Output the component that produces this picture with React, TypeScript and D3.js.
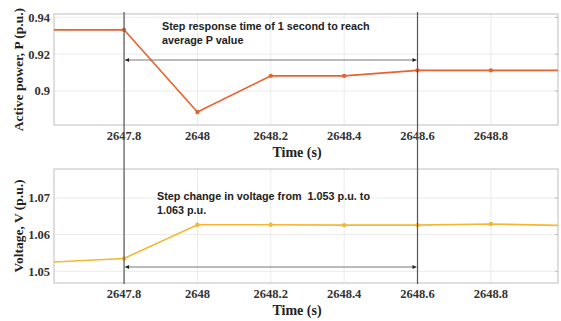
import React from 'react';
import * as d3 from 'd3';

const times = [2647.6, 2647.8, 2648, 2648.2, 2648.4, 2648.6, 2648.8, 2649.0];
const powerP = [0.9332, 0.9332, 0.8886, 0.9082, 0.9082, 0.9112, 0.9112, 0.9112];
const voltageV = [1.0525, 1.0535, 1.0627, 1.0627, 1.0626, 1.0626, 1.0629, 1.0625];
const xTicks = [2647.8, 2648, 2648.2, 2648.4, 2648.6, 2648.8];
const pTicks = [0.9, 0.92, 0.94];
const vTicks = [1.05, 1.06, 1.07];
const eventTimes = [2647.8, 2648.6];

const W = 561;
const H = 321;
const left = 54;
const right = 558;

const serif = '"Liberation Serif", "Times New Roman", serif';
const sans = '"Liberation Sans", Arial, sans-serif';

const x = d3.scaleLinear().domain([2647.609, 2648.983]).range([left, right]);

type PanelProps = {
  id: string;
  top: number;
  bottom: number;
  yDomain: [number, number];
  yTicks: number[];
  values: number[];
  color: string;
  yLabel: string;
  tickFmt: (v: number) => string;
};

const Panel = ({ id, top, bottom, yDomain, yTicks, values, color, yLabel, tickFmt }: PanelProps) => {
  const y = d3.scaleLinear().domain(yDomain).range([bottom, top]);
  const line = d3.line<number>()
    .x((d, i) => x(times[i]))
    .y(d => y(d));
  const pts = values.map((v, i) => ({ t: times[i], v })).filter(p => p.t >= x.domain()[0] && p.t <= x.domain()[1]);
  return (
    <g>
      <defs>
        <clipPath id={id}>
          <rect x={left} y={top} width={right - left} height={bottom - top} />
        </clipPath>
      </defs>
      {xTicks.map(t => (
        <line key={t} x1={x(t)} x2={x(t)} y1={top} y2={bottom} stroke="#ebebeb" strokeWidth={1} />
      ))}
      {yTicks.map(t => (
        <line key={t} x1={left} x2={right} y1={y(t)} y2={y(t)} stroke="#ebebeb" strokeWidth={1} />
      ))}
      <rect x={left} y={top} width={right - left} height={bottom - top} fill="none" stroke="#c8c8c8" strokeWidth={1.2} />
      {yTicks.map(t => (
        <line key={'tk' + t} x1={right - 3} x2={right} y1={y(t)} y2={y(t)} stroke="#bbb" />
      ))}
      <path d={line(values) || ''} fill="none" stroke={color} strokeWidth={1.6} clipPath={`url(#${id})`} />
      {pts.map(p => (
        <circle key={p.t} cx={x(p.t)} cy={y(p.v)} r={2.2} fill={color} />
      ))}
      {yTicks.map(t => (
        <text key={'l' + t} x={left - 4} y={y(t)} dy="0.35em" textAnchor="end"
          fontFamily={serif} fontWeight="bold" fontSize={12.5} fill="#333">{tickFmt(t)}</text>
      ))}
      {xTicks.map(t => (
        <text key={'x' + t} x={x(t)} y={bottom + 15} textAnchor="middle"
          fontFamily={serif} fontWeight="bold" fontSize={12.5} fill="#333">{d3.format('')(+t.toFixed(1))}</text>
      ))}
      <text x={297} y={bottom + 32} textAnchor="middle" fontFamily={serif} fontWeight="bold" fontSize={14} fill="#222">Time (s)</text>
      <text transform={`translate(18, ${(top + bottom) / 2}) rotate(-90)`} textAnchor="middle" dy="0.35em"
        fontFamily={serif} fontWeight="bold" fontSize={13.5} fill="#222">{yLabel}</text>
    </g>
  );
};

const Arrow = ({ yPos }: { yPos: number }) => {
  const x1 = x(eventTimes[0]) + 1;
  const x2 = x(eventTimes[1]) - 1;
  return (
    <g>
      <line x1={x1} x2={x2} y1={yPos} y2={yPos} stroke="#777" strokeWidth={1} />
      <path d={`M${x1},${yPos} l4,-2 l0,4 z`} fill="#222" />
      <path d={`M${x2},${yPos} l-4,-2 l0,4 z`} fill="#222" />
    </g>
  );
};

export default function App() {
  return (
    <svg width={W} height={H} style={{ position: 'absolute', left: 0, top: 0, background: '#fff' }}>
      <Panel id="cp" top={14} bottom={125} yDomain={[0.8815, 0.9418]} yTicks={pTicks} values={powerP}
        color="#e8622c" yLabel="Active power, P (p.u.)" tickFmt={v => d3.format('')(+v.toFixed(2))} />
      <Panel id="cv" top={169} bottom={283} yDomain={[1.0468, 1.0779]} yTicks={vTicks} values={voltageV}
        color="#f4b731" yLabel="Voltage, V (p.u.)" tickFmt={v => v.toFixed(2)} />
      {eventTimes.map(t => (
        <line key={t} x1={x(t)} x2={x(t)} y1={12} y2={284} stroke="#555" strokeWidth={1.2} />
      ))}
      <Arrow yPos={60} />
      <Arrow yPos={267} />
      <text fontFamily={sans} fontWeight="bold" fontSize={10.8} fill="#222" style={{ whiteSpace: 'pre' }}>
        <tspan x={162} y={30}>Step response time of 1 second to reach</tspan>
        <tspan x={162} y={44}>average P value</tspan>
      </text>
      <text fontFamily={sans} fontWeight="bold" fontSize={10.8} fill="#222" style={{ whiteSpace: 'pre' }}>
        <tspan x={157} y={200}>Step change in voltage from  1.053 p.u. to</tspan>
        <tspan x={157} y={214}>1.063 p.u.</tspan>
      </text>
    </svg>
  );
}
